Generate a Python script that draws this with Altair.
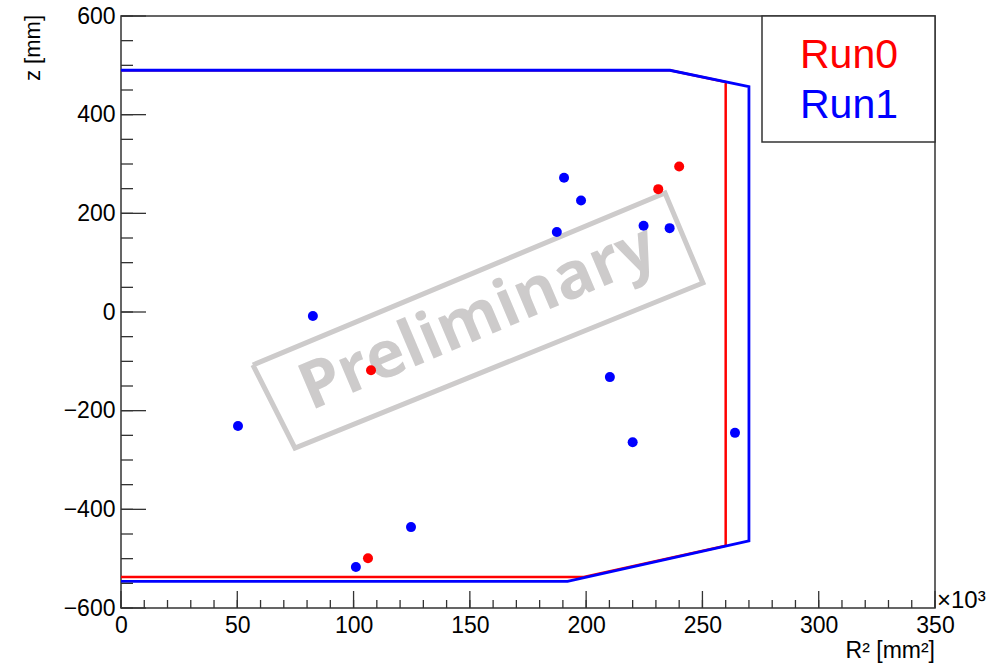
import altair as alt
import pandas as pd

# ---- data ----
run0_r2 = [107.5, 106.2, 231.0, 240.0]
run0_z = [-118, -499, 249, 295]
run1_r2 = [50.3, 82.5, 101.0, 124.7, 187.4, 190.5, 197.8, 224.7, 235.9, 210.2, 220.0, 264.0]
run1_z = [-231, -8, -517, -436, 162, 272, 226, 175, 170, -132, -264, -245]

# detector outlines (R^2 in 10^3 mm^2, z in mm)
run0_outline_r2 = [0, 236, 260, 260, 199, 0]
run0_outline_z = [490, 490, 466, -474, -537, -537]
run1_outline_r2 = [0, 236, 270, 270, 192, 0]
run1_outline_z = [490, 490, 457, -464, -546, -546]

# "Preliminary" watermark frame corners and label
wm_r2 = [56.7, 233.9, 250.2, 74.8, 56.7]
wm_z = [-107.4, 241.2, 58.8, -275.7, -107.4]
wm_text = "Preliminary"
wm_center = (153.5, -12.0)

x_major = [0, 50, 100, 150, 200, 250, 300, 350]
x_minor = list(range(0, 351, 10))
y_major = [-600, -400, -200, 0, 200, 400, 600]
y_minor = list(range(-600, 601, 50))

legend_labels = ["Run0", "Run1"]
colors = ["#ff0000", "#0000ff"]

W, H = 814, 592
FONT = "Liberation Sans"

xscale = alt.Scale(domain=[0, 350], nice=False, zero=False)
yscale = alt.Scale(domain=[-600, 600], nice=False, zero=False)
xaxis = alt.Axis(values=x_major, title=None, labelFlush=False, labelOverlap=False,
                 labelPadding=6, grid=False, ticks=False, domain=False)
yaxis = alt.Axis(values=y_major, title=None, labelFlush=False, labelOverlap=False,
                 labelPadding=6, grid=False, ticks=False, domain=False)


def X(field="r2"):
    return alt.X(f"{field}:Q", scale=xscale, axis=xaxis)


def Y(field="z"):
    return alt.Y(f"{field}:Q", scale=yscale, axis=yaxis)


wm_df = pd.DataFrame({"r2": wm_r2, "z": wm_z, "o": range(len(wm_r2))})
wm_frame = alt.Chart(wm_df).mark_line(color="#cdcbcb", strokeWidth=5, strokeJoin="miter").encode(
    x=X(), y=Y(), order="o:Q")
wm_label = alt.Chart(pd.DataFrame({"r2": [wm_center[0]], "z": [wm_center[1]], "t": [wm_text]})).mark_text(
    font="Open Sans", fontWeight="bold", fontSize=65, color="#cdcbcb", angle=337,
    align="center", baseline="middle").encode(x=X(), y=Y(), text="t:N")

r0_df = pd.DataFrame({"r2": run0_outline_r2, "z": run0_outline_z, "o": range(len(run0_outline_r2))})
r1_df = pd.DataFrame({"r2": run1_outline_r2, "z": run1_outline_z, "o": range(len(run1_outline_r2))})
line0 = alt.Chart(r0_df).mark_line(color=colors[0], strokeWidth=2.5).encode(x=X(), y=Y(), order="o:Q")
line1 = alt.Chart(r1_df).mark_line(color=colors[1], strokeWidth=2.8).encode(x=X(), y=Y(), order="o:Q")

# inward ticks
ytk_major = alt.Chart(pd.DataFrame({"z": y_major})).mark_rule(color="#333", strokeWidth=1.3).encode(
    y=Y(), x=alt.value(0), x2=alt.value(25))
ytk_minor = alt.Chart(pd.DataFrame({"z": y_minor})).mark_rule(color="#333", strokeWidth=1.3).encode(
    y=Y(), x=alt.value(0), x2=alt.value(12))
xtk_major = alt.Chart(pd.DataFrame({"r2": x_major})).mark_rule(color="#333", strokeWidth=1.3).encode(
    x=X(), y=alt.value(H), y2=alt.value(H - 17))
xtk_minor = alt.Chart(pd.DataFrame({"r2": x_minor})).mark_rule(color="#333", strokeWidth=1.3).encode(
    x=X(), y=alt.value(H), y2=alt.value(H - 8))

pts0 = alt.Chart(pd.DataFrame({"r2": run0_r2, "z": run0_z})).mark_circle(
    color=colors[0], size=100, opacity=1).encode(x=X(), y=Y())
pts1 = alt.Chart(pd.DataFrame({"r2": run1_r2, "z": run1_z})).mark_circle(
    color=colors[1], size=100, opacity=1).encode(x=X(), y=Y())

# legend box
leg_box = alt.Chart(pd.DataFrame({"a": [0]})).mark_rect(
    fill="white", stroke="#333", strokeWidth=1.5).encode(
    x=alt.value(641), x2=alt.value(W), y=alt.value(0), y2=alt.value(126))
leg_df = pd.DataFrame({"t": legend_labels, "c": colors, "yy": [52, 102]})
leg_text = alt.Chart(leg_df).mark_text(font=FONT, fontSize=41, align="center", baseline="alphabetic").encode(
    x=alt.value(728), y=alt.Y("yy:Q", scale=None), text="t:N",
    color=alt.Color("c:N", scale=None, legend=None))

# axis titles and exponent
xtitle = alt.Chart(pd.DataFrame({"t": ["R² [mm²]"]})).mark_text(
    font=FONT, fontSize=23, align="right", baseline="alphabetic", color="black").encode(
    x=alt.value(W), y=alt.value(H + 50), text="t:N")
ytitle = alt.Chart(pd.DataFrame({"t": ["z [mm]"]})).mark_text(
    font=FONT, fontSize=22, align="right", baseline="middle", angle=270, color="black").encode(
    x=alt.value(-88), y=alt.value(-1), text="t:N")
expo = alt.Chart(pd.DataFrame({"t": ["×10³"]})).mark_text(
    font=FONT, fontSize=24, align="left", baseline="alphabetic", color="black").encode(
    x=alt.value(W + 2), y=alt.value(H), text="t:N")

chart = alt.layer(
    wm_frame, wm_label, line0, line1,
    ytk_minor, ytk_major, xtk_minor, xtk_major,
    pts0, pts1, leg_box, leg_text, xtitle, ytitle, expo
).properties(
    width=W, height=H,
    padding={"left": 121, "top": 16, "right": 72, "bottom": 55},
    autosize=alt.AutoSizeParams(type="none"),
).configure_view(
    stroke="#333", strokeWidth=1.5
).configure_axis(
    labelFont=FONT, labelFontSize=23, labelColor="black"
)

chart.save("out.html", embed_options={"renderer": "svg", "actions": False})
